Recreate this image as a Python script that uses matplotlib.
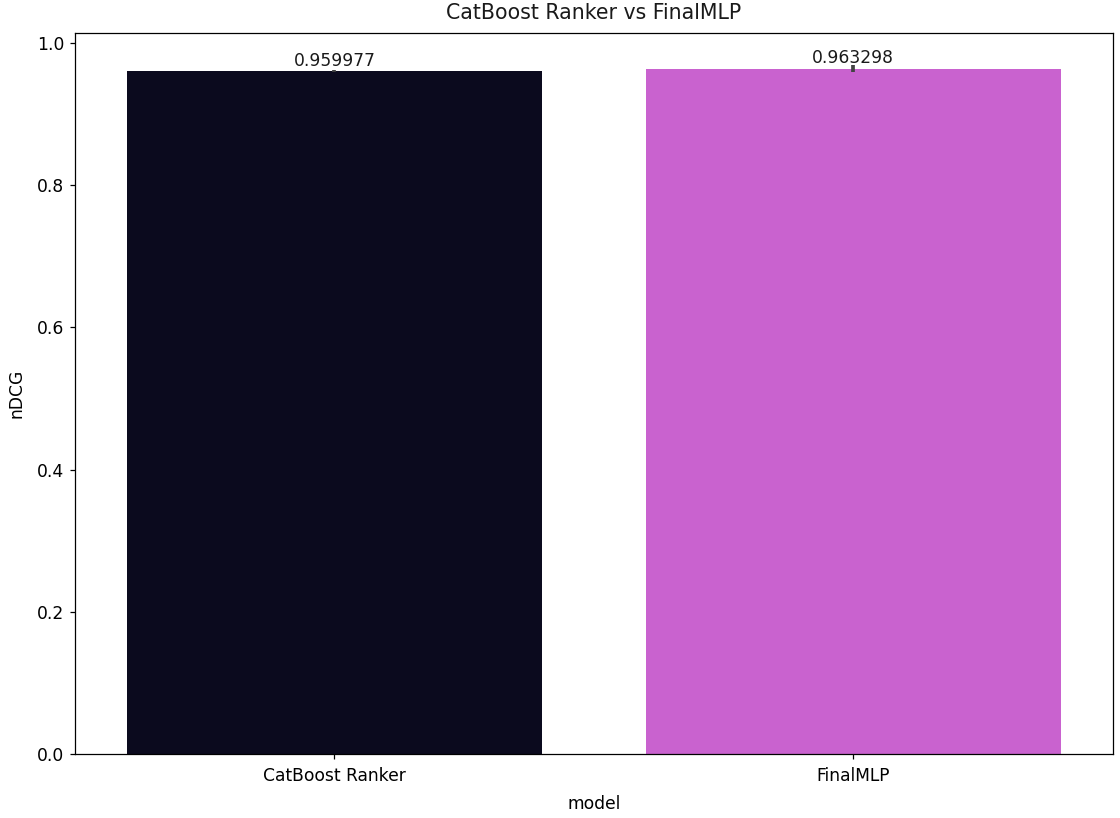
import numpy as np
import matplotlib
matplotlib.use('Agg')
from matplotlib import pyplot as plt

# values
models = ['CatBoost Ranker', 'FinalMLP']
ndcg = [0.959977, 0.963298]
ndcg_err = [0.001, 0.005]
colors = ['#0b0a1e', '#c962cf']

plt.rcParams['font.size'] = 11
plt.rcParams['text.color'] = '#1a1a1a'

fig, ax = plt.subplots(figsize=(10, 7.3036), dpi=112)
x = np.arange(len(models))
bars = ax.bar(x, ndcg, width=0.8, color=colors)
# error bars drawn on their own, so the labels sit right on the bar tops
ax.errorbar(x, ndcg, yerr=ndcg_err, fmt='none', ecolor='#424242',
            elinewidth=2.4, capsize=0)
ax.bar_label(bars, labels=[f'{v:g}' for v in ndcg], padding=1)

ax.set_xticks(x, models)
ax.tick_params(axis='x', pad=5)
ax.set_xlim(-0.5, 1.5)
ax.set_ylim(0, 1.014)
ax.set_xlabel('model', labelpad=6)
ax.set_ylabel('nDCG', labelpad=7)
ax.set_title('CatBoost Ranker vs FinalMLP', pad=9)

plt.subplots_adjust(left=0.067, right=0.9935, top=0.96, bottom=0.078)
plt.savefig('out.png')
